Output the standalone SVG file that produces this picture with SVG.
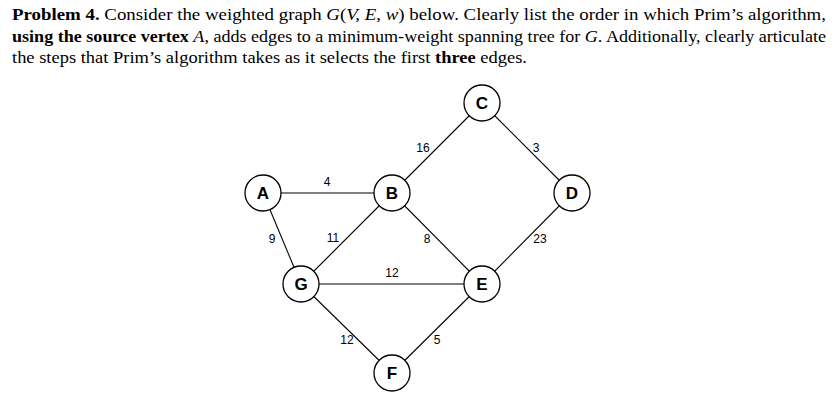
<svg xmlns="http://www.w3.org/2000/svg" width="839" height="412" viewBox="0 0 839 412">
<style>
.p{font-family:"Liberation Serif","DejaVu Serif",serif;font-size:17.5px;fill:#000}
.b{font-weight:bold}
.n circle{fill:#fff;stroke:#000;stroke-width:1.3}
.n text{font-family:"Liberation Sans",Arial,sans-serif;font-weight:bold;font-size:17px;text-anchor:middle;dominant-baseline:central}
.w{font-family:"Liberation Sans",Arial,sans-serif;font-size:12px;text-anchor:middle;dominant-baseline:central}
#edges line{stroke:#000;stroke-width:1.1}
</style>
<rect width="839" height="412" fill="#fff"/>
<text class="p" x="12" y="20" textLength="814" lengthAdjust="spacingAndGlyphs"><tspan class="b">Problem 4.</tspan> Consider the weighted graph <tspan font-style="italic">G</tspan>(<tspan font-style="italic">V, E, w</tspan>) below. Clearly list the order in which Prim’s algorithm,</text>
<text class="p" x="12" y="42" textLength="814" lengthAdjust="spacingAndGlyphs"><tspan class="b">using the source vertex</tspan> <tspan font-style="italic">A</tspan>, adds edges to a minimum-weight spanning tree for <tspan font-style="italic">G</tspan>. Additionally, clearly articulate</text>
<text class="p" x="12" y="63" textLength="515" lengthAdjust="spacingAndGlyphs">the steps that Prim’s algorithm takes as it selects the first <tspan class="b">three</tspan> edges.</text>
<g id="edges">
<line x1="263" y1="193" x2="392" y2="193"/>
<line x1="263" y1="193" x2="301" y2="284"/>
<line x1="392" y1="193" x2="482" y2="103"/>
<line x1="482" y1="103" x2="572" y2="193"/>
<line x1="392" y1="193" x2="301" y2="284"/>
<line x1="392" y1="193" x2="482" y2="284"/>
<line x1="572" y1="193" x2="482" y2="284"/>
<line x1="301" y1="284" x2="482" y2="284"/>
<line x1="301" y1="284" x2="392" y2="373"/>
<line x1="482" y1="284" x2="392" y2="373"/>
</g>
<g id="labels">
<text class="w" x="327" y="182">4</text>
<text class="w" x="423" y="148">16</text>
<text class="w" x="536" y="148">3</text>
<text class="w" x="272" y="239">9</text>
<text class="w" x="333" y="238">11</text>
<text class="w" x="427" y="239">8</text>
<text class="w" x="540" y="239">23</text>
<text class="w" x="392" y="273">12</text>
<text class="w" x="347" y="340">12</text>
<text class="w" x="437" y="340">5</text>
</g>
<g id="A" class="n"><circle cx="263" cy="193" r="18"/><text x="263" y="193">A</text></g>
<g id="B" class="n"><circle cx="392" cy="193" r="18"/><text x="392" y="193">B</text></g>
<g id="C" class="n"><circle cx="482" cy="103" r="18"/><text x="482" y="103">C</text></g>
<g id="D" class="n"><circle cx="572" cy="193" r="18"/><text x="572" y="193">D</text></g>
<g id="G" class="n"><circle cx="301" cy="284" r="18"/><text x="301" y="284">G</text></g>
<g id="E" class="n"><circle cx="482" cy="284" r="18"/><text x="482" y="284">E</text></g>
<g id="F" class="n"><circle cx="392" cy="373" r="18"/><text x="392" y="373">F</text></g>
</svg>
